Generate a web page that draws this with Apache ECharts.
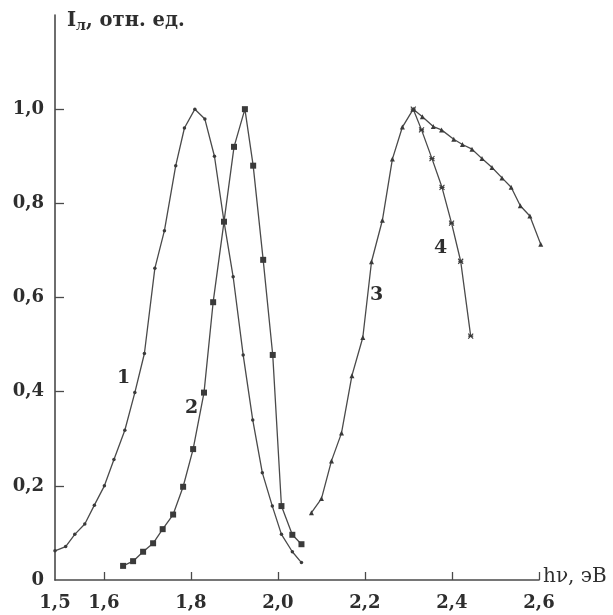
<!DOCTYPE html>
<html>
<head>
<meta charset="utf-8">
<script src="https://cdn.jsdelivr.net/npm/echarts@6/dist/echarts.min.js"></script>
<style>
  html, body { margin: 0; padding: 0; background: #fff; }
  #chart { width: 613px; height: 615px; }
</style>
</head>
<body>
<div id="chart"></div>
<script>
// кривая 1 (точки)
var x1 = [1.4875, 1.512, 1.533, 1.556, 1.578, 1.601, 1.623, 1.648, 1.671, 1.693, 1.717, 1.739, 1.765, 1.785, 1.809, 1.832, 1.854, 1.876, 1.897, 1.920, 1.942, 1.964, 1.987, 2.008, 2.033, 2.054];
var y1 = [0.062, 0.071, 0.097, 0.119, 0.159, 0.200, 0.256, 0.318, 0.398, 0.481, 0.662, 0.742, 0.880, 0.960, 1.000, 0.979, 0.900, 0.761, 0.644, 0.478, 0.340, 0.228, 0.157, 0.097, 0.060, 0.037];
// кривая 2 (квадраты)
var x2 = [1.644, 1.667, 1.690, 1.713, 1.735, 1.759, 1.782, 1.805, 1.830, 1.851, 1.876, 1.899, 1.924, 1.943, 1.966, 1.988, 2.008, 2.033, 2.054];
var y2 = [0.030, 0.040, 0.060, 0.078, 0.108, 0.139, 0.198, 0.278, 0.398, 0.590, 0.761, 0.920, 1.000, 0.880, 0.680, 0.478, 0.157, 0.096, 0.076];
// кривая 3 (треугольники)
var x3 = [2.077, 2.100, 2.123, 2.146, 2.170, 2.195, 2.215, 2.240, 2.263, 2.286, 2.311, 2.332, 2.357, 2.376, 2.404, 2.424, 2.446, 2.469, 2.492, 2.515, 2.536, 2.557, 2.579, 2.604];
var y3 = [0.143, 0.173, 0.253, 0.312, 0.434, 0.515, 0.676, 0.764, 0.894, 0.962, 1.000, 0.984, 0.963, 0.956, 0.936, 0.925, 0.915, 0.895, 0.876, 0.854, 0.834, 0.795, 0.773, 0.713];
// кривая 4 (крестики)
var x4 = [2.311, 2.330, 2.354, 2.377, 2.399, 2.420, 2.443];
var y4 = [1.000, 0.956, 0.895, 0.834, 0.758, 0.677, 0.518];

var xTicks = [1.4875, 1.6, 1.8, 2.0, 2.2, 2.4, 2.6];
var yTicks = [0, 0.2, 0.4, 0.6, 0.8, 1.0];

function pairs(xs, ys) {
  return xs.map(function (v, i) { return [v, ys[i]]; });
}
function comma(v) {
  if (v === 0) return '0';
  if (v < 1.55 && v > 1.4) return '1,5';
  return v.toFixed(1).replace('.', ',');
}

var ink = '#4a4a4a';
var serif = '"DejaVu Serif", "Liberation Serif", serif';

var chart = echarts.init(document.getElementById('chart'));

function line(data, symbol, size) {
  return {
    type: 'line',
    data: data,
    symbol: symbol,
    symbolSize: size,
    showAllSymbol: true,
    clip: false,
    animation: false,
    lineStyle: { color: ink, width: 1.3 },
    itemStyle: { color: '#3a3a3a', borderWidth: 0 }
  };
}

var s4 = line(pairs(x4, y4), 'path://M0,0L10,10M10,0L0,10M0,5L10,5', 5);
s4.itemStyle = { color: 'none', borderColor: '#3a3a3a', borderWidth: 1.1 };

chart.setOption({
  backgroundColor: '#ffffff',
  animation: false,
  grid: { left: 55, right: 74, top: 15, bottom: 35, containLabel: false },
  xAxis: {
    type: 'value',
    min: 1.4875,
    max: 2.6,
    axisLine: { lineStyle: { color: ink, width: 1.6 } },
    axisTick: { inside: true, length: 8, customValues: xTicks.slice(1), lineStyle: { color: ink, width: 1.3 } },
    axisLabel: {
      customValues: xTicks,
      formatter: comma,
      margin: 14,
      color: '#2e2e2e',
      fontFamily: serif,
      fontSize: 18,
      fontWeight: 'bold'
    },
    splitLine: { show: false }
  },
  yAxis: {
    type: 'value',
    min: 0,
    max: 1.2,
    axisLine: { show: true, lineStyle: { color: ink, width: 1.6 } },
    axisTick: { show: true, inside: true, length: 9, customValues: yTicks.slice(1), lineStyle: { color: ink, width: 1.3 } },
    axisLabel: {
      customValues: yTicks,
      formatter: comma,
      margin: 11,
      color: '#2e2e2e',
      fontFamily: serif,
      fontSize: 18,
      fontWeight: 'bold'
    },
    splitLine: { show: false }
  },
  series: [
    line(pairs(x1, y1), 'circle', 3.5),
    line(pairs(x2, y2), 'rect', 6),
    line(pairs(x3, y3), 'triangle', 5),
    s4
  ],
  graphic: [
    {
      type: 'text', left: 67, top: 11,
      style: {
        rich: {
          a: { fontFamily: serif, fontSize: 19.5, fontWeight: 'bold', fill: '#2e2e2e' },
          s: { fontFamily: serif, fontSize: 14, fontWeight: 'bold', fill: '#2e2e2e', padding: [10, 0, 0, 0] }
        },
        text: '{a|I}{s|л}{a|, отн. ед.}'
      }
    },
    { type: 'text', left: 543, top: 567, style: { text: 'hν, эВ', fontFamily: serif, fontSize: 20, fill: '#2e2e2e' } },
    { type: 'text', left: 117, top: 369, style: { text: '1', fontFamily: serif, fontSize: 19, fontWeight: 'bold', fill: '#2e2e2e' } },
    { type: 'text', left: 185, top: 399, style: { text: '2', fontFamily: serif, fontSize: 19, fontWeight: 'bold', fill: '#2e2e2e' } },
    { type: 'text', left: 370, top: 286, style: { text: '3', fontFamily: serif, fontSize: 19, fontWeight: 'bold', fill: '#2e2e2e' } },
    { type: 'text', left: 434, top: 239, style: { text: '4', fontFamily: serif, fontSize: 19, fontWeight: 'bold', fill: '#2e2e2e' } }
  ]
});
</script>
</body>
</html>
